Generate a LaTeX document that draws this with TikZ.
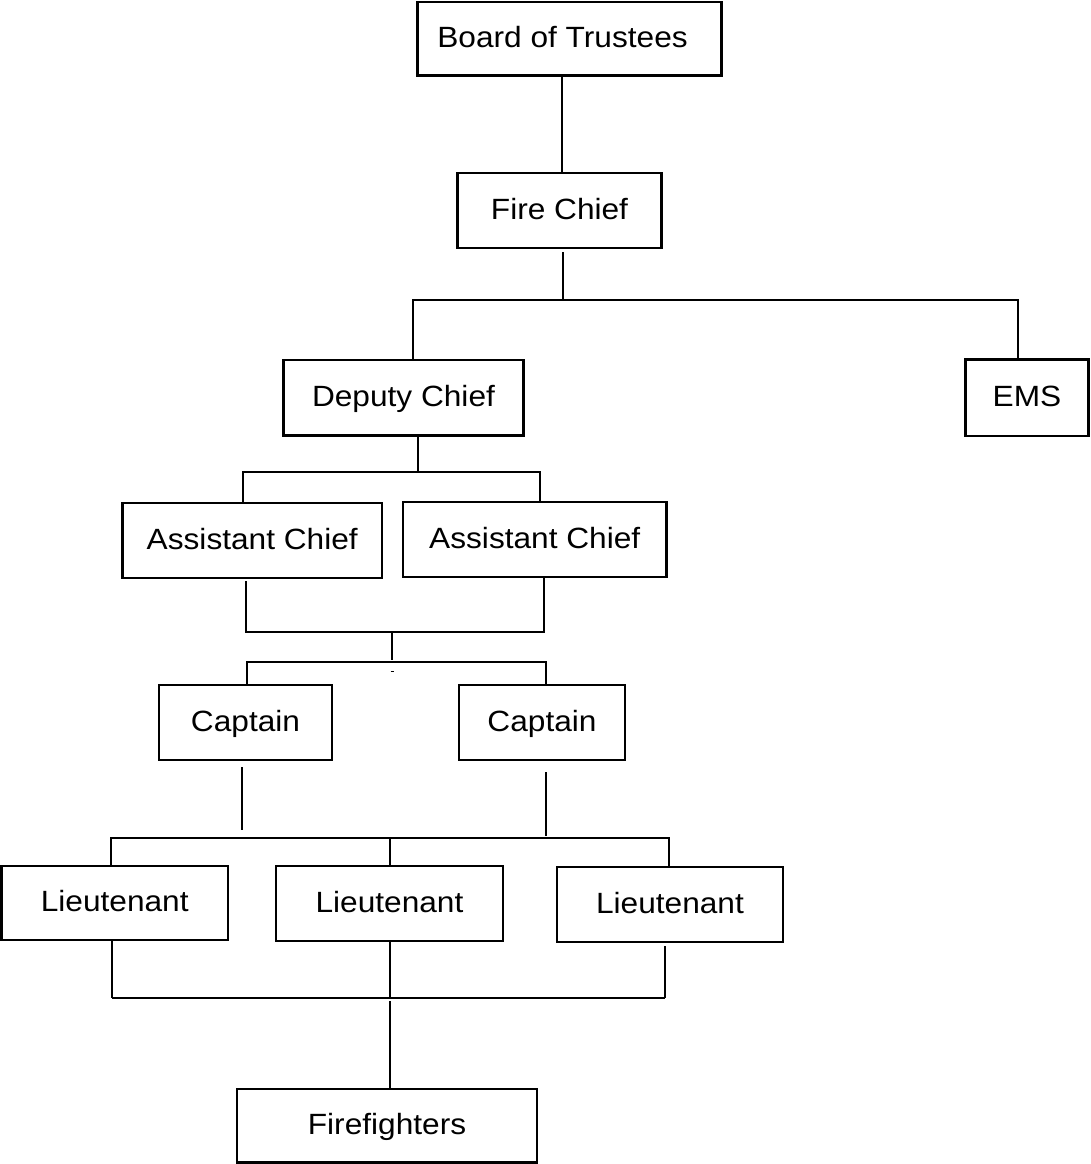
\documentclass[tikz,border=0pt]{standalone}
\usepackage{fontspec}
\newfontfamily\lab[FakeStretch=1.08]{Liberation Sans}
\begin{document}
\begin{tikzpicture}[x=1pt,y=-1pt,
  box/.style={draw, line width=2.6pt, inner sep=0pt, text height=21pt, text depth=4pt,
              font=\lab\fontsize{29.3}{35}\selectfont},
  conn/.style={line width=2.7pt},
  thin conn/.style={line width=2pt}]
\useasboundingbox[fill=white] (0,0) rectangle (1090,1164);

% boxes
\node[box, minimum width=304pt, minimum height=73.5pt] (bot) at (569.5,38.75) {Board of Trustees\hspace*{14pt}};
\node[box, minimum width=204pt, minimum height=75pt]   (fc)  at (559.5,210.5) {Fire Chief};
\node[box, minimum width=240pt, minimum height=75.5pt] (dc)  at (403.5,397.75) {Deputy Chief};
\node[box, minimum width=123pt, minimum height=76.5pt] (em)  at (1027,397.75) {EMS};
\node[box, minimum width=259.5pt, minimum height=75pt] (ac1) at (252.25,540.5) {Assistant Chief};
\node[box, minimum width=263.5pt, minimum height=75pt] (ac2) at (534.75,539.5) {Assistant Chief};
\node[box, minimum width=173pt, minimum height=75pt]   (cp1) at (245.5,722.5) {Captain};
\node[box, minimum width=166pt, minimum height=75pt]   (cp2) at (542,722.5) {Captain};
\node[box, minimum width=226.5pt, minimum height=74pt] (lt1) at (114.75,903) {Lieutenant};
\node[box, minimum width=227pt, minimum height=75pt]   (lt2) at (389.5,903.5) {Lieutenant};
\node[box, minimum width=226pt, minimum height=75pt]   (lt3) at (670,904.5) {Lieutenant};
\node[box, minimum width=300pt, minimum height=73.5pt] (ff)  at (387,1125.75) {Firefighters};

% junction coordinates
\coordinate (x562) at (562,0);
\coordinate (j1)  at (563,300);
\coordinate (j1l) at (413,300);
\coordinate (j1r) at (1018,300);
\coordinate (j2)  at (418,472);
\coordinate (j2l) at (243,472);
\coordinate (j2r) at (540,472);
\coordinate (j3l) at (246,632);
\coordinate (j3r) at (544,632);
\coordinate (j3a) at (392,633);
\coordinate (j3b) at (392,660);
\coordinate (j4l) at (247,662);
\coordinate (j4r) at (546,662);
\coordinate (c1a) at (242,767);
\coordinate (c1b) at (242,830);
\coordinate (c2a) at (546,772);
\coordinate (c2b) at (546,836);
\coordinate (j5l) at (111,838);
\coordinate (j5m) at (390,838);
\coordinate (j5r) at (669,838);
\coordinate (j6l) at (112,998);
\coordinate (j6m) at (390,998);
\coordinate (j6r) at (665,998);
\coordinate (j6b) at (390,1001);
\coordinate (dotl) at (390.5,671);
\coordinate (dotr) at (393.5,671);

% connectors
\draw[conn] (bot.south -| x562) -- (fc.north -| x562);
\draw[conn] ([yshift=-3pt]fc.south -| j1) -- (j1);
\draw[conn] (dc.north -| j1l) |- (j1r) -- (em.north -| j1r);
\draw[conn] (dc.south -| j2) -- (j2);
\draw[conn] (ac1.north -| j2l) |- (j2r) -- (ac2.north -| j2r);
\draw[conn] ([yshift=-2pt]ac1.south -| j3l) |- (j3r) -- (ac2.south -| j3r);
\draw[conn] (j3a) -- (j3b);
\draw[conn] (cp1.north -| j4l) |- (j4r) -- (cp2.north -| j4r);
\draw[line width=1pt] (dotl) -- (dotr);
\draw[conn] (c1a) -- (c1b);
\draw[conn] (c2a) -- (c2b);
\draw[thin conn] (lt1.north -| j5l) |- (j5r) -- (lt3.north -| j5r);
\draw[conn] (j5m) -- (lt2.north -| j5m);
\draw[conn] (lt1.south -| j6l) -- (j6l);
\draw[conn] (lt2.south -| j6m) -- (j6m);
\draw[conn] ([yshift=-3pt]lt3.south -| j6r) -- (j6r);
\draw[thin conn] (j6l) -- (j6r);
\draw[conn] (j6b) -- (ff.north -| j6b);
\end{tikzpicture}
\end{document}
